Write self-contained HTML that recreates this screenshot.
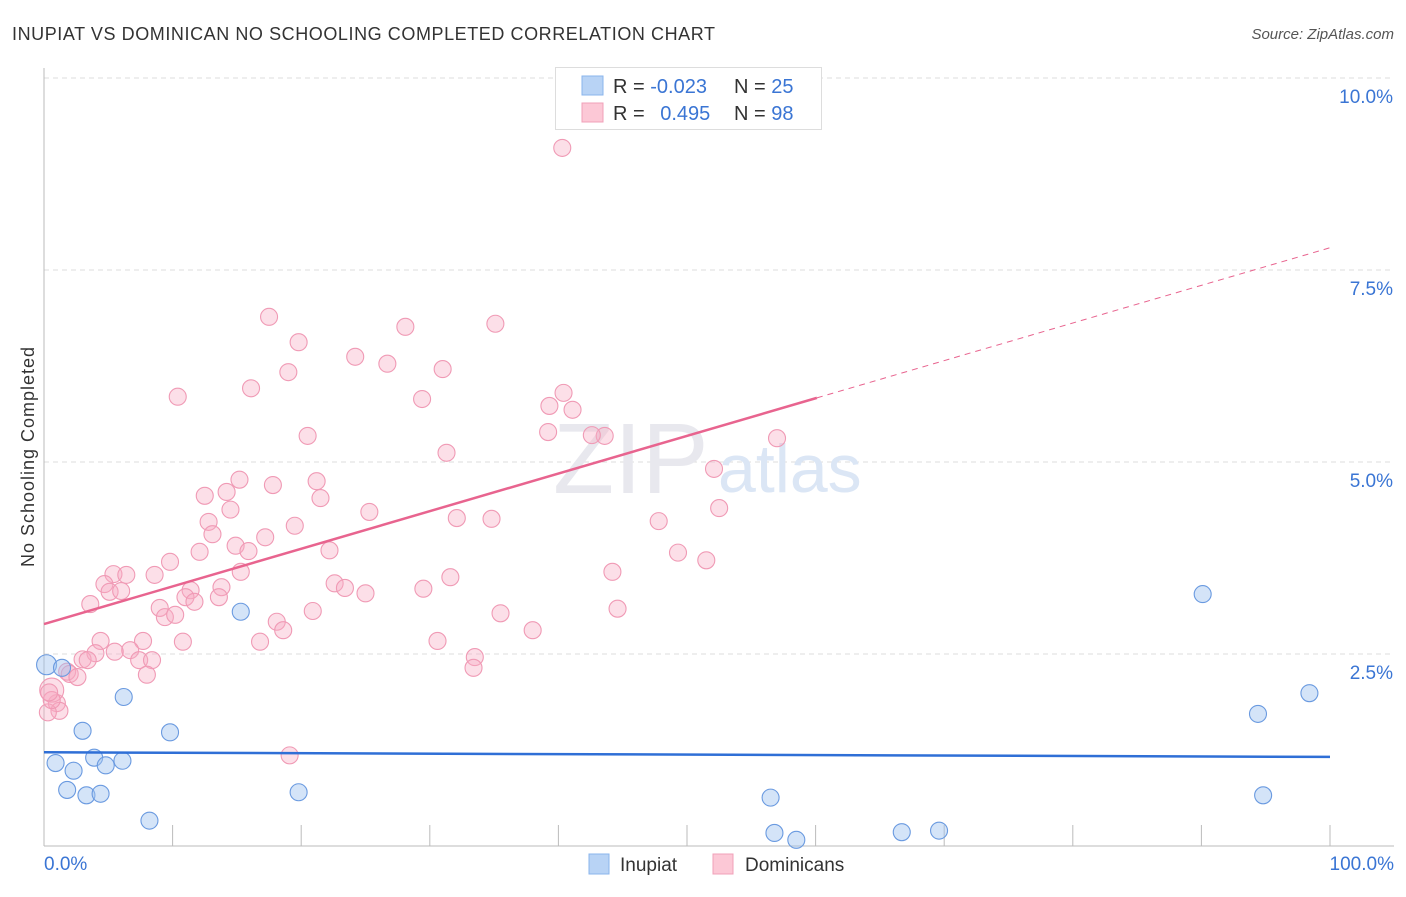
<!DOCTYPE html>
<html><head><meta charset="utf-8"><style>
body{margin:0;background:#fff;font-family:"Liberation Sans",sans-serif;}
svg text{font-family:"Liberation Sans",sans-serif;}
</style></head><body>
<svg id="chart" width="1406" height="892" xmlns="http://www.w3.org/2000/svg">
<text x="12" y="40" font-size="18" fill="#333" textLength="703">INUPIAT VS DOMINICAN NO SCHOOLING COMPLETED CORRELATION CHART</text>
<text x="1394" y="39" font-size="15" fill="#555" text-anchor="end" font-style="italic">Source: ZipAtlas.com</text>
<text x="34" y="457" font-size="18" fill="#333" text-anchor="middle" transform="rotate(-90 34 457)" textLength="220">No Schooling Completed</text>
<g id="grid"></g>
<g id="ticks"></g>
<text x="553" y="493" font-size="100" fill="#e8e8ee" font-family="Liberation Serif">ZIP</text>
<text x="718" y="492" font-size="68" fill="#dbe6f5">atlas</text>
<g id="pts"></g>
<g id="lines"></g>
<g>
<rect x="555.5" y="67.5" width="266" height="62" fill="#fff" stroke="#ddd"/>
<rect x="582" y="76" width="21" height="19" fill="#b8d3f5" stroke="#8ab4ec"/>
<rect x="582" y="103" width="21" height="19" fill="#fcc8d6" stroke="#f0a0b8"/>
<text x="613" y="93" font-size="20" fill="#333">R = <tspan fill="#3a75d4">-0.023</tspan></text>
<text x="734" y="93" font-size="20" fill="#333">N = <tspan fill="#3a75d4">25</tspan></text>
<text x="613" y="120" font-size="20" fill="#333">R = <tspan fill="#3a75d4" dx="10">0.495</tspan></text>
<text x="734" y="120" font-size="20" fill="#333">N = <tspan fill="#3a75d4">98</tspan></text>
</g>
<text x="44" y="870" font-size="19" fill="#3a75d4">0.0%</text>
<text x="1394" y="870" font-size="19" fill="#3a75d4" text-anchor="end">100.0%</text>
<g>
<rect x="589" y="854" width="20" height="20" fill="#b8d3f5" stroke="#8ab4ec"/>
<text x="620" y="871" font-size="19" fill="#333">Inupiat</text>
<rect x="713" y="854" width="20" height="20" fill="#fcc8d6" stroke="#f0a0b8"/>
<text x="745" y="871" font-size="19" fill="#333">Dominicans</text>
</g>
</svg>
<script>
const yTicks=[2.5,5.0,7.5,10.0];
const xTickPcts=[0,10,20,30,40,50,60,70,80,90,100];
const pinkX=[40.3,17.5,28.1,35.1,19.8,24.2,26.7,31.0,19.0,16.1,10.4,29.4,40.4,39.3,41.1,20.5,39.2,43.6,42.6,57.0,31.3,52.1,15.2,17.8,21.2,12.5,14.2,21.5,14.5,25.3,52.5,12.8,32.1,34.8,47.8,19.5,13.1,17.2,14.9,15.9,12.1,22.2,49.3,51.5,9.8,5.4,6.4,8.6,15.3,44.2,31.6,4.7,5.1,6.0,22.6,23.4,13.8,25.0,11.4,29.5,11.0,13.6,11.7,3.6,9.0,9.4,10.2,20.9,35.5,44.6,18.1,18.6,38.0,4.4,7.7,10.8,16.8,30.6,6.7,4.0,5.5,7.4,8.4,3.0,3.4,33.5,33.4,8.0,1.8,2.0,2.6,1.0,1.2,0.6,0.3,19.1,0.6,0.4];
const pinkY=[9.09,6.89,6.76,6.80,6.56,6.37,6.28,6.21,6.17,5.96,5.85,5.82,5.90,5.73,5.68,5.34,5.39,5.34,5.35,5.31,5.12,4.91,4.77,4.70,4.75,4.56,4.61,4.53,4.38,4.35,4.40,4.22,4.27,4.26,4.23,4.17,4.06,4.02,3.91,3.84,3.83,3.85,3.82,3.72,3.70,3.54,3.53,3.53,3.57,3.57,3.50,3.41,3.31,3.32,3.42,3.36,3.37,3.29,3.33,3.35,3.24,3.24,3.18,3.15,3.10,2.98,3.01,3.06,3.03,3.09,2.92,2.81,2.81,2.67,2.67,2.66,2.66,2.67,2.55,2.51,2.53,2.42,2.42,2.43,2.42,2.46,2.32,2.23,2.27,2.24,2.20,1.86,1.76,2.03,1.74,1.18,1.90,2.00];
const blueX=[0.2,1.4,15.3,90.1,6.2,98.4,94.4,3.0,9.8,3.9,0.9,6.1,4.8,2.3,1.8,3.3,4.4,19.8,56.5,94.8,8.2,56.8,58.5,66.7,69.6];
const blueY=[2.36,2.32,3.05,3.28,1.94,1.99,1.72,1.50,1.48,1.15,1.08,1.11,1.05,0.98,0.73,0.66,0.68,0.70,0.63,0.66,0.33,0.17,0.08,0.18,0.20];
const pinkTrend=[2.89,7.79]; const pinkSolidEnd=60.1;
const blueTrend=[1.22,1.16];
const X=v=>44+v*12.86, Y=v=>846-v*76.8;
const NS='http://www.w3.org/2000/svg';
function mk(t,a,p){const e=document.createElementNS(NS,t);for(const k in a)e.setAttribute(k,a[k]);p.appendChild(e);return e;}
const grid=document.getElementById('grid'),ticks=document.getElementById('ticks');
yTicks.forEach(v=>{
 const l=mk('line',{x1:44,x2:1394,y1:Y(v),y2:Y(v),stroke:'#ddd','stroke-dasharray':'5,4'},grid);
 
 
 const t=mk('text',{x:1393,y:Y(v)+25,'font-size':19,fill:'#3a75d4','text-anchor':'end'},ticks);
 t.textContent=v.toFixed(1)+'%';
 
 
});
const ax=mk('line',{x1:44,x2:44,y1:68,y2:846,stroke:'#bbb'},grid);


const bx=mk('line',{x1:44,x2:1394,y1:846,y2:846,stroke:'#bbb'},grid);


xTickPcts.forEach(v=>{
 const t=mk('line',{x1:X(v),x2:X(v),y1:825,y2:846,stroke:'#bbb'},grid);
 
 
});
const pts=document.getElementById('pts');
pinkX.forEach((x,i)=>{
 const c=mk('circle',{cx:X(x),cy:Y(pinkY[i]),r:(i==93?12:8.5),fill:'rgba(248,170,195,0.38)',stroke:'#f09ab5','stroke-width':1.1},pts);
 
 
});
blueX.forEach((x,i)=>{
 const c=mk('circle',{cx:X(x),cy:Y(blueY[i]),r:(i==0?10:8.5),fill:'rgba(160,196,240,0.45)',stroke:'#6a9ae0','stroke-width':1.1},pts);
 
 
});
const lines=document.getElementById('lines');
const py=v=>pinkTrend[0]+(pinkTrend[1]-pinkTrend[0])*v/100;
const l1=mk('line',{x1:X(0),y1:Y(py(0)),x2:X(pinkSolidEnd),y2:Y(py(pinkSolidEnd)),stroke:'#e8648f','stroke-width':2.5},lines);


const l2=mk('line',{x1:X(pinkSolidEnd),y1:Y(py(pinkSolidEnd)),x2:X(100),y2:Y(py(100)),stroke:'#e8648f','stroke-width':1,'stroke-dasharray':'6,5'},lines);


const l3=mk('line',{x1:X(0),y1:Y(blueTrend[0]),x2:X(100),y2:Y(blueTrend[1]),stroke:'#2f6fd6','stroke-width':2.5},lines);


</script>
</body></html>
